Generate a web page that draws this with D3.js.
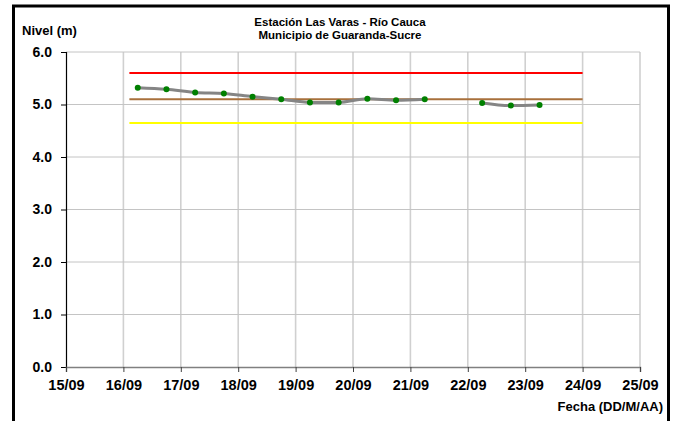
<!DOCTYPE html>
<html>
<head>
<meta charset="utf-8">
<script src="https://cdn.jsdelivr.net/npm/d3@7"></script>
<style>
  body { margin: 0; background: #fff; }
  svg { display: block; font-family: "Liberation Sans", Arial, sans-serif; }
</style>
</head>
<body>
<svg width="679" height="421"></svg>
<script>
// readings every 12h (06:00 / 18:00), one missing on 21/09 18:00
const times = [
  "2014-09-16T06:00", "2014-09-16T18:00", "2014-09-17T06:00", "2014-09-17T18:00",
  "2014-09-18T06:00", "2014-09-18T18:00", "2014-09-19T06:00", "2014-09-19T18:00",
  "2014-09-20T06:00", "2014-09-20T18:00", "2014-09-21T06:00", "2014-09-21T18:00",
  "2014-09-22T06:00", "2014-09-22T18:00", "2014-09-23T06:00"
];
const nivel = [5.32, 5.29, 5.23, 5.21, 5.15, 5.10, 5.04, 5.04, 5.11, 5.08, 5.10, null, 5.03, 4.98, 4.99];

// alert levels
const alertaRoja = 5.60;
const alertaNaranja = 5.10;
const alertaAmarilla = 4.65;
const alertaInicio = "2014-09-16T02:30";
const alertaFin = "2014-09-24T00:00";

const xTicks = ["15/09", "16/09", "17/09", "18/09", "19/09", "20/09", "21/09", "22/09", "23/09", "24/09", "25/09"];
const yTicks = [0, 1, 2, 3, 4, 5, 6];

const parse = d3.timeParse("%Y-%m-%dT%H:%M");
const data = times.map((t, i) => ({ date: parse(t), v: nivel[i] }));

const svg = d3.select("svg");
const m = { left: 66, right: 640, top: 52, bottom: 367 };

const x = d3.scaleTime()
  .domain([parse("2014-09-15T00:00"), parse("2014-09-25T00:00")])
  .range([m.left, m.right]);
const y = d3.scaleLinear().domain([0, 6]).range([m.bottom, m.top]);

// frame
svg.append("rect")
  .attr("x", 13.5).attr("y", 6)
  .attr("width", 655).attr("height", 420)
  .attr("fill", "none")
  .attr("stroke", "#000")
  .attr("stroke-width", 3);

// grid
const tickDates = d3.timeDay.range(parse("2014-09-15T00:00"), parse("2014-09-25T01:00"));
svg.append("g").selectAll("line")
  .data(tickDates.slice(1))
  .join("line")
  .attr("x1", d => x(d)).attr("x2", d => x(d))
  .attr("y1", m.top).attr("y2", m.bottom)
  .attr("stroke", "#d0d0d0").attr("stroke-width", 1.6);
svg.append("g").selectAll("line")
  .data(yTicks.slice(1))
  .join("line")
  .attr("x1", m.left).attr("x2", m.right)
  .attr("y1", d => y(d)).attr("y2", d => y(d))
  .attr("stroke", "#c4c4c4").attr("stroke-width", 1);

// axes
const yAxis = svg.append("g")
  .attr("transform", `translate(${m.left},0)`)
  .call(d3.axisLeft(y).tickValues(yTicks).tickFormat(d3.format(".1f")).tickSize(5).tickPadding(9));
yAxis.select(".domain").attr("stroke", "#000").attr("stroke-width", 1.2);
yAxis.selectAll("text").attr("font-size", 14).attr("font-weight", "bold").attr("fill", "#000");

const xAxis = svg.append("g")
  .attr("transform", `translate(0,${m.bottom})`)
  .call(d3.axisBottom(x).tickValues(tickDates).tickFormat((d, i) => xTicks[i]).tickSize(5).tickPadding(8));
xAxis.select(".domain").attr("stroke", "#808080").attr("stroke-width", 1.5);
xAxis.selectAll(".tick line").attr("stroke", "#404040");
xAxis.selectAll("text").attr("font-size", 14.5).attr("font-weight", "bold").attr("fill", "#000");

// alert lines
const alertas = [
  { v: alertaRoja, c: "#ff0000" },
  { v: alertaNaranja, c: "#a8703c" },
  { v: alertaAmarilla, c: "#ffff00" }
];
svg.append("g").selectAll("line")
  .data(alertas)
  .join("line")
  .attr("x1", x(parse(alertaInicio))).attr("x2", x(parse(alertaFin)))
  .attr("y1", d => y(d.v)).attr("y2", d => y(d.v))
  .attr("stroke", d => d.c).attr("stroke-width", 2);

// level series
const line = d3.line()
  .defined(d => d.v != null)
  .x(d => x(d.date)).y(d => y(d.v))
  .curve(d3.curveMonotoneX);
svg.append("path")
  .datum(data)
  .attr("d", line)
  .attr("fill", "none")
  .attr("stroke", "#858585")
  .attr("stroke-width", 3);
svg.append("g").selectAll("circle")
  .data(data.filter(d => d.v != null))
  .join("circle")
  .attr("cx", d => x(d.date)).attr("cy", d => y(d.v))
  .attr("r", 3).attr("fill", "#008000");

// titles
svg.append("text").attr("x", 340).attr("y", 26).attr("text-anchor", "middle")
  .attr("font-size", 11.5).attr("font-weight", "bold").text("Estación Las Varas - Río Cauca");
svg.append("text").attr("x", 340).attr("y", 39).attr("text-anchor", "middle")
  .attr("font-size", 11.5).attr("font-weight", "bold").text("Municipio de Guaranda-Sucre");
svg.append("text").attr("x", 22).attr("y", 35)
  .attr("font-size", 13).attr("font-weight", "bold").text("Nivel (m)");
svg.append("text").attr("x", 663).attr("y", 411).attr("text-anchor", "end")
  .attr("font-size", 13).attr("font-weight", "bold").text("Fecha (DD/M/AA)");
</script>
</body>
</html>
